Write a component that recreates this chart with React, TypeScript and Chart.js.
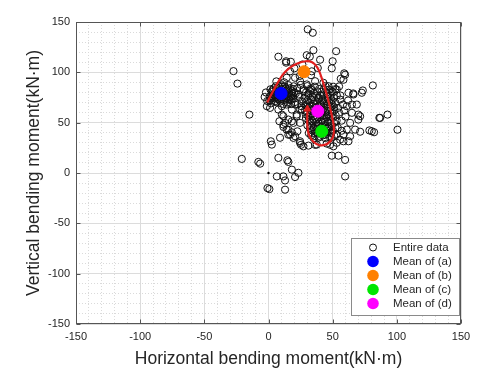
import { useEffect, useRef } from "react";
import { Chart, registerables } from "chart.js";

Chart.register(...registerables);

// ---------------- data ----------------
const entireData: [number, number][] = [
  // far outliers (top / sides)
  [30.6, 142.7], [34.5, 139.3], [-27.3, 101.2], [-24.2, 88.8], [7.7, 115.5], [13.7, 111], [17.4, 110.5],
  [29.8, 117], [35, 122], [32.2, 115.6], [52.7, 121], [50, 111], [49.3, 104], [59, 99], [56.3, 93.6],
  [81.3, 87], [73.5, 82], [66, 79], [86.4, 54.8], [92.7, 58], [80.5, 41.5], [78.6, 42.3], [100.5, 43], [-14.9, 58],
  // lower outliers
  [-20.8, 14], [-7.9, 11], [-6.5, 9.3], [7.7, 15], [14.7, 12.6], [15.5, 11], [18.2, 3.3], [23.3, 0.2],
  [20.7, -4], [6.5, -3.4], [11.6, -3.4], [12.9, -7.4], [-0.8, -15], [0.7, -16], [12.9, -16.6],
  [49.3, 17.2], [54.5, 17.2], [59.7, 13], [59.7, -3.4],
  // dense cluster around mean (a)
  [1, 76], [2.5, 80.5], [3, 72.5], [4, 84], [5.2, 77], [6, 70.3], [6.6, 81.2], [7.1, 74], [8, 86.4], [8.4, 78],
  [9.2, 71], [10, 83], [10.6, 75.2], [11.3, 80], [12, 72.4], [12.6, 86], [13, 77.3], [14.1, 82], [14.5, 70],
  [15.2, 75.5], [16, 79.4], [16.7, 84.2], [17.1, 72.2], [18, 77], [18.6, 81.3], [2, 69.2], [4.6, 74.4],
  [7.6, 79.3], [9.5, 88.2], [11.5, 68.6], [13.4, 73.5], [15.5, 87.3], [17.6, 68.4], [19, 74.2], [20, 80.2],
  [0.6, 72.2], [3.6, 78.1], [5.6, 86.2], [12.2, 90.1], [6.1, 91], [20.6, 70.5], [1.5, 83.1], [19.6, 86.1],
  [-3, 75.5], [-2, 80], [-1, 71.5],
  [2.1, 74.2], [4.3, 77.4], [6.2, 75.1], [8.1, 72.8], [10.2, 77.3], [12.3, 79.4], [14.2, 76.2], [16.1, 73.3],
  [18.2, 79.1], [3.2, 82.3], [7.3, 84.1], [11.1, 86.2], [15.1, 83.2], [19.1, 83.4], [5.3, 80.2], [9.1, 81.3],
  [13.2, 84.3], [17.3, 76.1],
  // dense cluster around means (c)/(d)
  [30.2, 86.3], [36.1, 85.8], [44.3, 86.5], [50.4, 85.7],
  [27.3, 83.2], [33.1, 82.8], [39.4, 83.4], [47.2, 82.9], [52.1, 83.3],
  [29.3, 80.1], [35.4, 79.7], [41.2, 80.4], [45.3, 79.8], [50.2, 80.2],
  [31.1, 77.3], [37.3, 76.8], [43.1, 77.2], [48.4, 76.7], [53.3, 77.1],
  [28.2, 74.6], [34.3, 75.2], [39.2, 74.8], [46.1, 75.3], [51.2, 74.7],
  [30.4, 72.2], [36.2, 71.7], [42.1, 72.3], [44.3, 71.6], [49.2, 72.1],
  [32.2, 69.6], [38.1, 70.2], [40.4, 69.4], [47.3, 70.3], [52.2, 69.8],
  [29.1, 67.2], [34.3, 66.7], [41.2, 67.3], [45.4, 66.6], [50.1, 67.1],
  [31.3, 64.6], [37.2, 65.2], [43.3, 64.8], [48.1, 65.3], [54.2, 64.7],
  [28.4, 62.2], [33.2, 61.8], [39.1, 62.3], [46.3, 61.7], [51.3, 62.1],
  [30.1, 59.6], [36.3, 60.2], [41.1, 59.7], [44.2, 60.3], [49.4, 59.8],
  [32.3, 57.2], [35.2, 56.7], [40.3, 57.3], [47.1, 56.8], [52.4, 57.1],
  [29.2, 54.6], [38.3, 55.2], [43.2, 54.7], [45.1, 55.3], [50.3, 54.8],
  [31.2, 52.2], [34.1, 51.7], [41.3, 52.3], [48.2, 51.8], [53.1, 52.1],
  [33.3, 49.6], [37.1, 50.2], [42.2, 49.7], [46.4, 50.3], [51.1, 49.8],
  [30.3, 47.2], [36.4, 46.7], [39.3, 47.3], [44.1, 46.8], [49.2, 47.1],
  [32.1, 44.6], [35.3, 45.2], [41.4, 44.7], [47.2, 45.3], [52.2, 44.8],
  [34.2, 42.2], [38.2, 41.7], [43.4, 42.3], [46.2, 41.8], [50.2, 42.1],
  [31.4, 39.6], [37.4, 40.2], [40.2, 39.7], [45.2, 40.3], [48.3, 39.8],
  [33.2, 37.2], [36.2, 36.7], [42.3, 37.3], [47.4, 36.8], [51.2, 37.1],
  [35.1, 34.6], [39.2, 35.2], [44.2, 34.7], [49.1, 35.3],
  [33.1, 84.2], [38.2, 81.1], [43.1, 83.2], [31.2, 79.1], [40.1, 77.3], [46.2, 78.1], [33.2, 73.1],
  [39.1, 73.2], [46.1, 73.3], [35.2, 69.1], [43.1, 69.2], [49.1, 69.3], [32.1, 66.2], [39.2, 66.1],
  [46.2, 68.1], [35.1, 63.2], [42.2, 62.1], [48.1, 62.3], [33.1, 59.2], [39.1, 59.1], [46.1, 58.2],
  [31.1, 56.1], [37.2, 53.1], [43.1, 57.2], [49.2, 56.1], [35.2, 53.2], [44.1, 51.1], [39.2, 49.1],
  [48.1, 49.2], [33.1, 47.1], [42.1, 46.2], [46.1, 44.2], [38.1, 44.1], [36.1, 39.2], [44.1, 38.1],
  [40.1, 36.2], [49.1, 40.2], [29.2, 70.1], [29.1, 58.2], [51.1, 65.2],
  [22.4, 84.1], [25.2, 87.6], [21.3, 79.2], [24.1, 75.6], [26.2, 71.1], [22.8, 68.3], [25.6, 66.4],
  // spread around the clusters
  [13.7, 109.6], [16.8, 101], [14.2, 94.6], [20.7, 94.6], [24.6, 91.2], [29.8, 88], [33.7, 101], [36.3, 91.2],
  [42.8, 89.6], [46.7, 86.3], [49.3, 81.3], [53.2, 83], [59.7, 97.6], [58.4, 92.6], [62.3, 79.7], [66.2, 78],
  [55.8, 73], [61, 66.4], [68.8, 68], [65, 59.8], [71.4, 56.4], [70, 53], [63.6, 49.8], [67.5, 43.1], [61, 43.1],
  [58.4, 38.1], [55.8, 33.2], [62.3, 31.5], [50.6, 26.5], [45.4, 29.2], [37.6, 28.2], [31.1, 27.2], [24.6, 29.9],
  [19.4, 34.9], [16.8, 38.1], [14.2, 43.1], [11.6, 48.1], [11.6, 56.4], [15.5, 53.1], [19.4, 49.8], [18.2, 63],
  [22, 56.4], [24.6, 49.8], [24.6, 63], [20.7, 68], [14.2, 68], [10.4, 66.4], [9, 73], [5.1, 71.3], [19.4, 76.3],
  [23.3, 78], [27.2, 81.3], [32.4, 81.3],
  [-1.3, 66.4], [1.2, 64.7], [7.7, 63], [10.4, 58], [8.5, 51.4], [12.9, 49.8], [11.6, 45.8], [15.5, 43],
  [18.2, 40.4], [15.5, 38], [20.7, 36.5], [22.5, 41.4], [24.6, 31.5], [25.4, 28], [1.8, 31.5], [2.6, 28.2],
  [9, 35], [18.2, 51.4], [22, 58], [26, 63],
  [72.7, 79.7], [65, 68], [70, 58], [87, 54.7], [71.4, 41], [82.3, 40.5], [58.4, 31.5], [63.6, 36.5], [53.2, 30],
  [48, 28], [36.3, 28], [27.2, 26.5], [55, 60], [57, 52], [54, 45], [58, 68], [56, 77], [60, 56], [53, 38],
  [57, 42], [59, 62], [62, 72], [55, 86],
  [20.2, 104], [24.3, 96.4], [33.1, 97.2], [26.4, 107.8], [38.4, 104.3], [40.2, 112.5],
];

const meanLabels = ["Mean of (a)", "Mean of (b)", "Mean of (c)", "Mean of (d)"];
const meanPoints: [number, number][] = [
  [9.8, 79],
  [27.7, 100.6],
  [41.5, 41.4],
  [38.4, 61.4],
];
const meanColors = ["#0000ff", "#ff8000", "#00e600", "#ff00ff"];

const entireLabel = "Entire data";

// red trajectory (a -> b -> c -> d) with arrow at the end
const trajectory: [number, number][] = [
  [-1, 70], [3, 80], [6.5, 88], [11, 97.5], [16, 104], [22, 108.5], [29, 111], [34, 110], [38, 105],
  [41, 96], [44, 84], [47, 70], [49.5, 56], [51, 44], [50, 35], [46, 29], [40, 27.5], [35, 31],
  [31.5, 38], [30.3, 47], [30.2, 55], [30.3, 61],
];
const arrowTip: [number, number] = [30.3, 63.5];
const originMark: [number, number] = [0, 0];

const axisMin = -150;
const axisMax = 150;
const minorStep = 10;
const majorTicks = [-150, -100, -50, 0, 50, 100, 150];

const xTitle = "Horizontal bending moment(kN·m)";
const yTitle = "Vertical bending moment(kN·m)";

// ---------------- styles ----------------
const FONT = "'Liberation Sans', Arial, sans-serif";
const TEXT = "#262626";
const toXY = (p: [number, number]) => ({ x: p[0], y: p[1] });

const framePlugin = {
  id: "frameAndLegend",
  afterDraw(chart: any) {
    const ctx = chart.ctx as CanvasRenderingContext2D;
    const { left, right, top, bottom } = chart.chartArea;
    const xs = chart.scales.x;
    const ys = chart.scales.y;
    ctx.save();
    // frame
    ctx.strokeStyle = "#555";
    ctx.lineWidth = 1;
    const L = Math.round(left) + 0.5;
    const R = Math.round(right) - 0.5;
    const T = Math.round(top) + 0.5;
    const B = Math.round(bottom) - 0.5;
    ctx.strokeRect(L, T, R - L, B - T);
    // inward major ticks
    ctx.beginPath();
    majorTicks.forEach((v) => {
      const px = Math.round(xs.getPixelForValue(v)) + 0.5;
      ctx.moveTo(px, B);
      ctx.lineTo(px, B - 4);
      ctx.moveTo(px, T);
      ctx.lineTo(px, T + 4);
      const py = Math.round(ys.getPixelForValue(v)) + 0.5;
      ctx.moveTo(L, py);
      ctx.lineTo(L + 4, py);
      ctx.moveTo(R, py);
      ctx.lineTo(R - 4, py);
    });
    ctx.stroke();

    // legend
    const boxW = 108;
    const boxH = 77;
    const bx = Math.round(right) - 2 - boxW;
    const by = Math.round(bottom) - 9 - boxH;
    ctx.fillStyle = "#fff";
    ctx.fillRect(bx, by, boxW, boxH);
    ctx.strokeStyle = "#8a8a8a";
    ctx.strokeRect(bx + 0.5, by + 0.5, boxW, boxH);
    const labels = [entireLabel, ...meanLabels];
    ctx.font = `11.5px ${FONT}`;
    ctx.textBaseline = "middle";
    ctx.textAlign = "left";
    labels.forEach((lab, i) => {
      const cy = by + 9.5 + i * 14;
      const mx = bx + 22;
      ctx.beginPath();
      if (i === 0) {
        ctx.arc(mx, cy, 3.5, 0, Math.PI * 2);
        ctx.strokeStyle = "#111";
        ctx.lineWidth = 1;
        ctx.stroke();
      } else {
        ctx.arc(mx, cy, 5.8, 0, Math.PI * 2);
        ctx.fillStyle = meanColors[i - 1];
        ctx.fill();
      }
      ctx.fillStyle = TEXT;
      ctx.fillText(lab, bx + 42, cy + 0.5);
    });
    ctx.restore();
  },
};

export default function App() {
  const ref = useRef<HTMLCanvasElement | null>(null);

  useEffect(() => {
    if (!ref.current) return;
    const gridColor = (c: any) =>
      c.tick && majorTicks.includes(c.tick.value) ? "#dcdcdc" : "#dadada";
    const gridDash = (c: any) =>
      c.tick && !majorTicks.includes(c.tick.value) ? [1, 2] : [];
    const tickCb = (v: any) => (majorTicks.includes(Number(v)) ? String(v) : "");

    const chart = new Chart(ref.current, {
      type: "scatter",
      data: {
        datasets: [
          ...meanPoints.map((p, i) => ({
            label: meanLabels[i],
            data: [toXY(p)],
            pointRadius: 6,
            pointHoverRadius: 6,
            backgroundColor: meanColors[i],
            borderColor: meanColors[i],
            borderWidth: 1,
            order: 0,
          })),
          {
            label: "arrow",
            data: [toXY(arrowTip)],
            pointStyle: "triangle",
            pointRadius: 4,
            rotation: 0,
            backgroundColor: "#e01f1f",
            borderColor: "#e01f1f",
            borderWidth: 1,
            order: 1,
          },
          {
            label: "trajectory",
            data: trajectory.map(toXY),
            showLine: true,
            tension: 0.4,
            borderColor: "#e01f1f",
            borderWidth: 2.2,
            pointRadius: 0,
            fill: false,
            order: 2,
          },
          {
            label: "origin",
            data: [toXY(originMark)],
            pointRadius: 1.2,
            backgroundColor: "#000",
            borderColor: "#000",
            borderWidth: 0,
            order: 3,
          },
          {
            label: entireLabel,
            data: entireData.map(toXY),
            pointRadius: 3.6,
            backgroundColor: "rgba(0,0,0,0)",
            borderColor: "#111",
            borderWidth: 1,
            order: 4,
          },
        ] as any,
      },
      options: {
        responsive: false,
        animation: false,
        layout: { padding: { left: 0, right: 18, top: 22, bottom: 0 } },
        plugins: { legend: { display: false }, tooltip: { enabled: false } },
        scales: {
          x: {
            type: "linear",
            min: axisMin,
            max: axisMax,
            afterFit: (s: any) => {
              s.height = 52;
            },
            ticks: {
              stepSize: minorStep,
              autoSkip: false,
              maxRotation: 0,
              padding: 6,
              color: TEXT,
              font: { family: FONT, size: 11 },
              callback: tickCb,
            },
            grid: { color: gridColor, drawTicks: false, lineWidth: 1 },
            border: { display: false, dash: gridDash } as any,
            title: {
              display: true,
              text: xTitle,
              color: TEXT,
              font: { family: FONT, size: 17.5 },
              padding: { top: 0, bottom: 6 },
            },
          },
          y: {
            type: "linear",
            min: axisMin,
            max: axisMax,
            afterFit: (s: any) => {
              s.width = 76;
            },
            ticks: {
              stepSize: minorStep,
              autoSkip: false,
              padding: 6,
              color: TEXT,
              font: { family: FONT, size: 11 },
              callback: tickCb,
            },
            grid: { color: gridColor, drawTicks: false, lineWidth: 1 },
            border: { display: false, dash: gridDash } as any,
            title: {
              display: true,
              text: yTitle,
              color: TEXT,
              font: { family: FONT, size: 17.5 },
              padding: { top: 24, bottom: 0 },
            },
          },
        },
      },
      plugins: [framePlugin],
    });
    return () => chart.destroy();
  }, []);

  return (
    <div style={{ position: "absolute", left: 0, top: 0, width: 479, height: 376, background: "#fff" }}>
      <canvas ref={ref} width={479} height={376} style={{ width: 479, height: 376, display: "block" }} />
    </div>
  );
}
